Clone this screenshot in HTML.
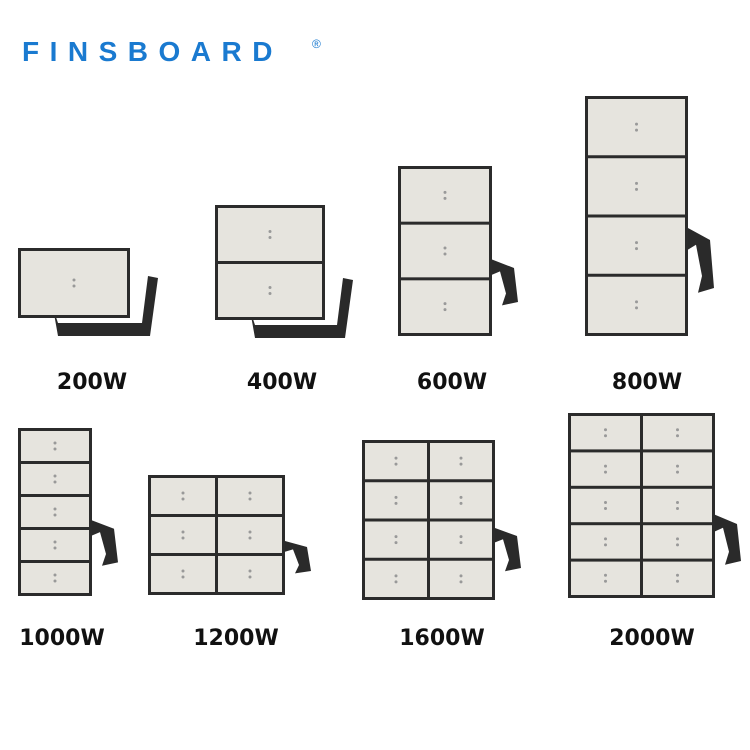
<!DOCTYPE html>
<html><head><meta charset="utf-8"><style>
html,body{margin:0;padding:0;background:#fff;width:750px;height:750px;overflow:hidden}
svg{display:block}
.lbl{font-family:"DejaVu Sans","Liberation Sans",sans-serif;font-weight:bold;font-size:22px;fill:#111;text-anchor:middle}
.logo{font-family:"Liberation Sans",sans-serif;font-weight:bold;font-size:28px;fill:#1a7ad0;letter-spacing:10.5px}
</style></head><body>
<svg id="s" width="750" height="750" viewBox="0 0 750 750" xmlns="http://www.w3.org/2000/svg">
<text class="logo" x="22" y="61">FINSBOARD</text>
<text x="312" y="48" font-family="Liberation Sans,sans-serif" font-size="12" fill="#1a7ad0">®</text>
<text class="lbl" x="92" y="389">200W</text>
<text class="lbl" x="282" y="389">400W</text>
<text class="lbl" x="452" y="389">600W</text>
<text class="lbl" x="647" y="389">800W</text>
<text class="lbl" x="62" y="645">1000W</text>
<text class="lbl" x="236" y="645">1200W</text>
<text class="lbl" x="442" y="645">1600W</text>
<text class="lbl" x="652" y="645">2000W</text>
<g id="g"></g>
</svg>
<script>
var g=document.getElementById('g'),h='';
function L(x,y,w,hh,rows,cols,br){
 if(br==='b'){h+='<path d="M'+(x+35)+' '+(y+hh-10)+' L'+(x+40)+' '+(y+hh+18)+' L'+(x+w+20)+' '+(y+hh+18)+' L'+(x+w+28)+' '+(y+hh-40)+' L'+(x+w+18)+' '+(y+hh-42)+' L'+(x+w+12)+' '+(y+hh+5)+' L'+(x+40)+' '+(y+hh+5)+'Z" fill="#2a2a2a"/>';}
 if(br==='r'){h+='<path d="M'+(x+w)+' '+(y+hh*0.55)+' L'+(x+w+22)+' '+(y+hh*0.6)+' L'+(x+w+26)+' '+(y+hh*0.8)+' L'+(x+w+10)+' '+(y+hh*0.82)+' L'+(x+w+14)+' '+(y+hh*0.75)+' L'+(x+w+8)+' '+(y+hh*0.62)+' L'+(x+w)+' '+(y+hh*0.64)+'Z" fill="#2a2a2a"/>';}
 h+='<rect x="'+x+'" y="'+y+'" width="'+w+'" height="'+hh+'" fill="#2b2b2b"/>';
 var p=3,cw=(w-p*(cols+1))/cols,ch=(hh-p*(rows+1))/rows;
 for(var r=0;r<rows;r++)for(var c=0;c<cols;c++){
  var cx=x+p+c*(cw+p),cy=y+p+r*(ch+p);
  h+='<rect x="'+cx+'" y="'+cy+'" width="'+cw+'" height="'+ch+'" fill="#e6e4de"/>';
  h+='<circle cx="'+(cx+cw/2)+'" cy="'+(cy+ch/2-3)+'" r="1.5" fill="#999"/><circle cx="'+(cx+cw/2)+'" cy="'+(cy+ch/2+3)+'" r="1.5" fill="#999"/>';
 }
}
L(18,248,112,70,1,1,'b');
L(215,205,110,115,2,1,'b');
L(398,166,94,170,3,1,'r');
L(585,96,103,240,4,1,'r');
L(18,428,74,168,5,1,'r');
L(148,475,137,120,3,2,'r');
L(362,440,133,160,4,2,'r');
L(568,413,147,185,5,2,'r');
g.innerHTML=h;
</script>
</body></html>
